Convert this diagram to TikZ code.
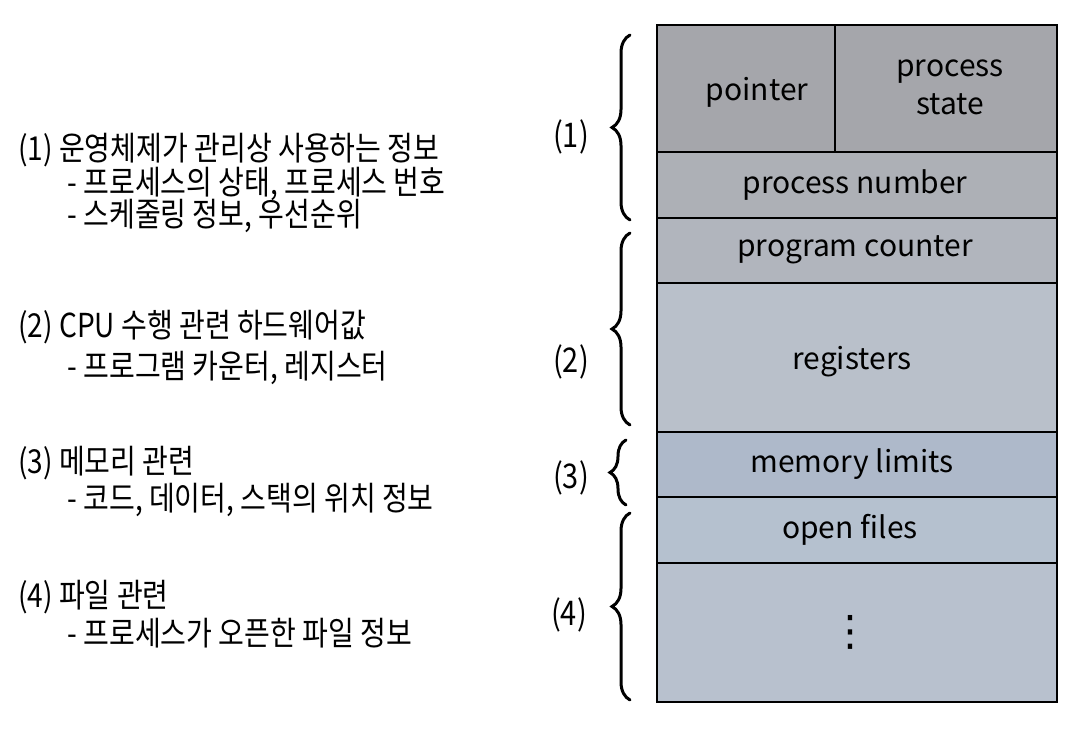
\documentclass[tikz,border=0pt]{standalone}
\usepackage{fontspec}
\setmainfont{Noto Sans CJK KR}
\newfontfamily\kofont[FakeStretch=0.85]{Noto Sans CJK KR}
\newfontfamily\symfont{DejaVu Sans}
\usetikzlibrary{
  calc,                      % 좌표 계산
  decorations.pathreplacing  % 중괄호 장식
}

% 칸 채우기 색
\definecolor{pcbA}{HTML}{A5A6AB}
\definecolor{pcbB}{HTML}{ADB0B6}
\definecolor{pcbC}{HTML}{B1B5BD}
\definecolor{pcbD}{HTML}{B9C0CA}
\definecolor{pcbE}{HTML}{AEB9CA}
\definecolor{pcbF}{HTML}{B5C1CF}
\definecolor{pcbG}{HTML}{B8C1CE}

\begin{document}
\begin{tikzpicture}[x=0.5pt, y=-0.5pt,
  cell/.style={draw=black, line width=1.1pt},
  celltext/.style={font=\fontsize{15}{18}\selectfont, align=center, inner sep=0pt},
  desc/.style={font=\kofont\fontsize{16.5}{19}\selectfont, anchor=west, inner sep=0pt},
  bracelabel/.style={font=\kofont\fontsize{17}{19}\selectfont, inner sep=0pt},
  pcbbrace/.style={line width=1.5pt, line cap=round, decorate,
                   decoration={brace, amplitude=9pt}}]

  % 그림 크기 (1092 x 747 px)
  \useasboundingbox (0,0) rectangle (1092,747);

  % PCB 상자의 좌우 경계
  \def\xL{657}
  \def\xR{1057}
  \def\xM{835}

  % 1. 칸 채우기
  \foreach \ya/\yb/\col in {25/152/pcbA, 152/218/pcbB, 218/283/pcbC,
                            283/432/pcbD, 432/497/pcbE, 497/563/pcbF, 563/702/pcbG}
    \fill[\col] (\xL,\ya) rectangle (\xR,\yb);

  % 2. 테두리와 칸 구분선
  \draw[cell] (\xL,25) rectangle (\xR,702);
  \foreach \y in {152,218,283,432,497,563}
    \draw[cell] (\xL,\y) -- (\xR,\y);
  \draw[cell] (\xM,25) -- (\xM,152);

  % 3. 칸 안의 글자
  \node[celltext] (ptr)   at (757,92)  {pointer};
  \node[celltext] (pst)   at (950,87)  {process\\[1pt]state};
  \node[celltext] (pnum)  at (855,185) {process number};
  \node[celltext] (pc)    at (855,250) {program counter};
  \node[celltext] (reg)   at (852,362) {registers};
  \node[celltext] (mem)   at (852,464) {memory limits};
  \node[celltext] (files) at (850,530) {open files};
  \node[celltext, font=\symfont\fontsize{21}{24}\selectfont] (more) at (850,632) {⋮};

  % 4. 중괄호와 번호
  \coordinate (b1t) at (630,35);   \coordinate (b1b) at (630,220);
  \coordinate (b2t) at (630,233);  \coordinate (b2b) at (630,425);
  \coordinate (b3t) at (626,440);  \coordinate (b3b) at (626,505);
  \coordinate (b4t) at (630,513);  \coordinate (b4b) at (630,700);
  \draw[pcbbrace] (b1b) -- (b1t);
  \draw[pcbbrace] (b2b) -- (b2t);
  \draw[pcbbrace, decoration={brace, amplitude=8pt}] (b3b) -- (b3t);
  \draw[pcbbrace] (b4b) -- (b4t);
  \node[bracelabel] (n1) at (571,137) {(1)};
  \node[bracelabel] (n2) at (571,362) {(2)};
  \node[bracelabel] (n3) at (571,478) {(3)};
  \node[bracelabel] (n4) at (569,615) {(4)};

  % 5. 왼쪽 설명
  \node[desc] (d1)  at (18,150) {(1) 운영체제가 관리상 사용하는 정보};
  \node[desc] (d1a) at (67,184) {- 프로세스의 상태, 프로세스 번호};
  \node[desc] (d1b) at (67,216) {- 스케줄링 정보, 우선순위};
  \node[desc] (d2)  at (18,327) {(2) CPU 수행 관련 하드웨어값};
  \node[desc] (d2a) at (67,368) {- 프로그램 카운터, 레지스터};
  \node[desc] (d3)  at (18,463) {(3) 메모리 관련};
  \node[desc] (d3a) at (67,500) {- 코드, 데이터, 스택의 위치 정보};
  \node[desc] (d4)  at (18,597) {(4) 파일 관련};
  \node[desc] (d4a) at (67,633) {- 프로세스가 오픈한 파일 정보};

\end{tikzpicture}
\end{document}
